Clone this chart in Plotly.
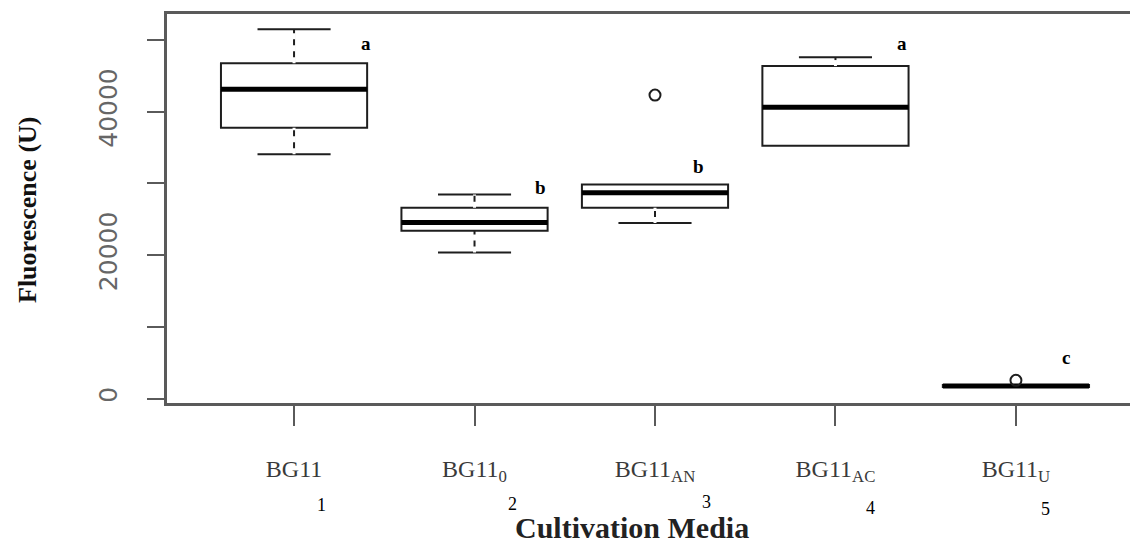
import plotly.graph_objects as go

# ---- data ----
media = ["BG11", "BG11<sub>0</sub>", "BG11<sub>AN</sub>", "BG11<sub>AC</sub>", "BG11<sub>U</sub>"]
positions = [1, 2, 3, 4, 5]
lower_whisker = [34090, 20370, 24500, 35250, 1600]
q1 = [37760, 23390, 26600, 35250, 1600]
median = [43120, 24560, 28690, 40610, 1760]
q3 = [46750, 26600, 29860, 46370, 1900]
upper_whisker = [51490, 28470, 29860, 47590, 1900]
outlier_pos = [3, 5]
outlier_val = [42320, 2550]
letters = ["a", "b", "b", "a", "c"]
letter_y = [49580, 29420, 32420, 49580, 5760]
group_numbers = ["1", "2", "3", "4", "5"]
y_tickvals = [0, 20000, 40000]
y_ticktext = ["0", "20000", "40000"]
y_minor_tickvals = [10000, 30000, 50000]

# ---- style / layout constants ----
BOX_W = 0.81
letter_dx = [0.40, 0.366, 0.24, 0.37, 0.28]
number_dx = [0.15, 0.21, 0.288, 0.194, 0.166]
number_ypx = [505, 504, 502, 508, 509]
L, R, T, B = 167, 0, 14, 143
W, H = 1130, 546
plot_h = H - T - B
AXC = "#5a5a5a"

fig = go.Figure()

fig.add_trace(go.Box(
    x=positions, q1=q1, median=median, q3=q3,
    lowerfence=lower_whisker, upperfence=upper_whisker,
    width=BOX_W, whiskerwidth=0.5,
    line=dict(color="#1e1e1e", width=2),
    fillcolor="white", boxpoints=False, showlegend=False, hoverinfo="skip",
))

# dashed look for whiskers (white dashes over the solid whisker)
wx, wy = [], []
for p, lo, a, b, hi in zip(positions, lower_whisker, q1, q3, upper_whisker):
    if hi > b:
        wx += [p, p, None]
        wy += [b, hi, None]
    if lo < a:
        wx += [p, p, None]
        wy += [lo, a, None]
fig.add_trace(go.Scatter(x=wx, y=wy, mode="lines",
                         line=dict(color="white", width=3, dash="6px,6px"),
                         showlegend=False, hoverinfo="skip"))

# thick median lines
mx, my = [], []
for p, m in zip(positions, median):
    mx += [p - BOX_W / 2, p + BOX_W / 2, None]
    my += [m, m, None]
fig.add_trace(go.Scatter(x=mx, y=my, mode="lines",
                         line=dict(color="black", width=5),
                         showlegend=False, hoverinfo="skip"))

# outliers
fig.add_trace(go.Scatter(x=outlier_pos, y=outlier_val, mode="markers",
                         marker=dict(symbol="circle-open", size=11, color="#1e1e1e",
                                     line=dict(color="#1e1e1e", width=2)),
                         showlegend=False, hoverinfo="skip"))

annotations = []
for p, dx, lab, ly in zip(positions, letter_dx, letters, letter_y):
    annotations.append(dict(x=p + dx, y=ly, xref="x", yref="y", text="<b>" + lab + "</b>",
                            showarrow=False,
                            font=dict(family="Liberation Serif", size=19, color="black"),
                            xanchor="center", yanchor="middle"))
for p, dx, num, ypx in zip(positions, number_dx, group_numbers, number_ypx):
    annotations.append(dict(x=p + dx, y=(H - B - ypx) / plot_h, xref="x", yref="paper",
                            text=num, showarrow=False,
                            font=dict(family="Liberation Serif", size=18, color="black"),
                            xanchor="center", yanchor="middle"))
annotations.append(dict(x=(27 - L) / (W - L - R), y=(H - B - 210) / plot_h,
                        xref="paper", yref="paper", text="<b>Fluorescence (U)</b>",
                        textangle=-90, showarrow=False,
                        font=dict(family="Liberation Serif", size=26, color="#111"),
                        xanchor="center", yanchor="middle"))
annotations.append(dict(x=(632 - L) / (W - L - R), y=(H - B - 546) / plot_h,
                        xref="paper", yref="paper", text="<b>Cultivation Media</b>",
                        showarrow=False,
                        font=dict(family="Liberation Serif", size=30, color="#222"),
                        xanchor="center", yanchor="bottom"))

fig.update_layout(
    width=W, height=H,
    margin=dict(l=L, r=R, t=T, b=B, autoexpand=False),
    paper_bgcolor="white", plot_bgcolor="white",
    showlegend=False,
    annotations=annotations,
    xaxis=dict(
        range=[0.296, 5.632], tickmode="array", tickvals=positions, ticktext=media,
        showline=True, mirror=True, linecolor=AXC, linewidth=2.5,
        ticks="outside", ticklen=20, tickwidth=1.5, tickcolor=AXC,
        showgrid=False, zeroline=False, ticklabelstandoff=22,
        tickfont=dict(family="Liberation Serif", size=24, color="#3a3a3a"),
    ),
    yaxis=dict(
        range=[-614, 53630], tickmode="array", tickvals=y_tickvals, ticktext=y_ticktext,
        showline=True, linecolor=AXC, linewidth=2.5,
        ticks="outside", ticklen=17, tickwidth=1.5, tickcolor=AXC,
        minor=dict(tickmode="array", tickvals=y_minor_tickvals, ticks="outside",
                   ticklen=17, tickwidth=1.5, tickcolor=AXC, showgrid=False),
        showgrid=False, zeroline=False, tickangle=-90, ticklabelstandoff=20,
        tickfont=dict(family="DejaVu Sans", size=25, color="#666"),
    ),
)

fig.write_html("out.html")
